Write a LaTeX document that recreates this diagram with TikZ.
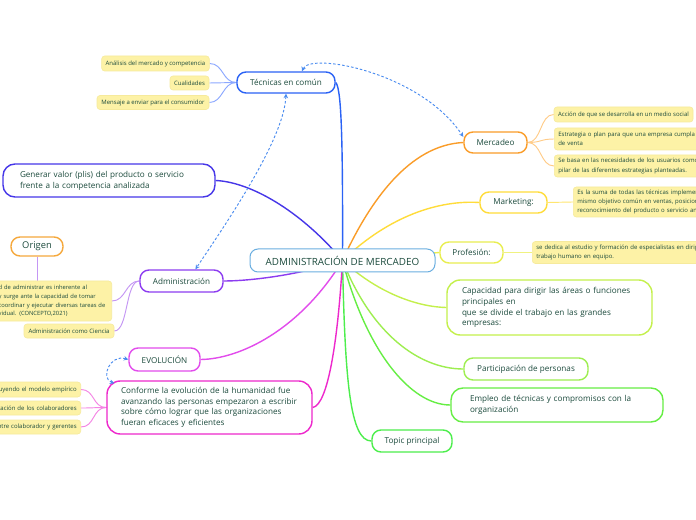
\documentclass[tikz,border=0pt]{standalone}
\usepackage{fontspec}
\setmainfont{Open Sans}
\usetikzlibrary{arrows.meta,calc,backgrounds}
\newdimen\pxu \pxu=0.75pt
\definecolor{txt}{HTML}{1B4A3C}
\definecolor{leaffill}{HTML}{FDF2A6}
\definecolor{leafdraw}{HTML}{F6EA9C}
\definecolor{relc}{HTML}{4A8CF0}
\definecolor{cCenter}{HTML}{6AAEE0}
\definecolor{cTec}{HTML}{2A62F5}
\definecolor{cMerc}{HTML}{FA9C28}
\definecolor{cMkt}{HTML}{FFDC3A}
\definecolor{cProf}{HTML}{E8EE50}
\definecolor{cCap}{HTML}{C4F04C}
\definecolor{cPart}{HTML}{9EEE50}
\definecolor{cEmpl}{HTML}{66EE44}
\definecolor{cTopic}{HTML}{4CEE4C}
\definecolor{cGen}{HTML}{4636E8}
\definecolor{cAdm}{HTML}{8C3CF0}
\definecolor{cOrig}{HTML}{F5A83C}
\definecolor{cEvo}{HTML}{E24CEC}
\definecolor{cConf}{HTML}{EE28CC}
\definecolor{lTec}{HTML}{8CA8FF}
\definecolor{lMerc}{HTML}{FFCC88}
\definecolor{lMkt}{HTML}{FFE670}
\definecolor{lProf}{HTML}{F0F280}
\definecolor{lAdm}{HTML}{C496F4}
\definecolor{lConf}{HTML}{F484E4}
\tikzset{
  topic/.style={draw, line width=1.05pt, rounded corners=6.75pt, fill=white, text=txt,
    font=\fontsize{6.1}{8.1}\selectfont, inner sep=0pt, align=center},
  leaf/.style={fill=leaffill, draw=leafdraw, line width=0.45pt, rounded corners=2.25pt, text=txt,
    font=\fontsize{4.5}{7}\selectfont, inner ysep=0pt, inner xsep=3pt},
  branch/.style={line width=1.05pt},
  twig/.style={line width=0.7pt},
  rel/.style={draw=relc, dash pattern=on 1.9pt off 1.5pt, line width=0.7pt,
    {Stealth[length=3.4pt,width=3.4pt]}-{Stealth[length=3.4pt,width=3.4pt]}},
}
\begin{document}
\begin{tikzpicture}[x=0.75pt,y=-0.75pt]
\useasboundingbox (0,0) rectangle (696,520);
\clip (0,0) rectangle (696,520);

% central and main topics
\node[topic, draw=cCenter, line width=0.75pt, rounded corners=6pt, minimum width=185\pxu, minimum height=23\pxu,
  font=\fontsize{7.4}{9}\selectfont] (center) at (342.5,260.5) {ADMINISTRACIÓN DE MERCADEO};
\node[topic, draw=cTec, minimum width=98\pxu, minimum height=21\pxu] (tec) at (286,82.5) {Técnicas en común};
\node[topic, draw=cMerc, minimum width=63\pxu, minimum height=21\pxu] (merc) at (495.5,142.5) {Mercadeo};
\node[topic, draw=cMkt, minimum width=67\pxu, minimum height=21\pxu] (mkt) at (513.5,202.5) {Marketing:};
\node[topic, draw=cProf, minimum width=63\pxu, minimum height=21\pxu] (prof) at (471.5,252.5) {Profesión:};
\node[topic, draw=cCap, rounded corners=10pt, minimum width=205\pxu, minimum height=55\pxu, text width=175\pxu, inner xsep=15\pxu, align=left]
  (cap) at (549.5,307.5) {Capacidad para dirigir las áreas o funciones\\principales en\\que se divide el trabajo en las grandes\\empresas:};
\node[topic, draw=cPart, minimum width=124\pxu, minimum height=22\pxu] (part) at (526,369) {Participación de personas};
\node[topic, draw=cEmpl, rounded corners=9pt, minimum width=212\pxu, minimum height=34\pxu, text width=174\pxu, inner xsep=19\pxu, align=left]
  (empl) at (557,405) {Empleo de técnicas y compromisos con la\\organización};
\node[topic, draw=cTopic, minimum width=80\pxu, minimum height=22\pxu] (topicp) at (412,441) {Topic principal};
\node[topic, draw=cGen, rounded corners=9pt, minimum width=212\pxu, minimum height=33\pxu, text width=178\pxu, inner xsep=17\pxu, align=left]
  (gen) at (109,180.5) {Generar valor (plis) del producto o servicio\\frente a la competencia analizada};
\node[topic, draw=cOrig, minimum width=52\pxu, minimum height=19\pxu, font=\fontsize{7}{8}\selectfont] (origen) at (37,246.5) {Origen};
\node[topic, draw=cAdm, minimum width=83\pxu, minimum height=22\pxu] (adm) at (181.5,281) {Administración};
\node[topic, draw=cEvo, minimum width=71\pxu, minimum height=23\pxu] (evo) at (164.5,359.5) {EVOLUCIÓN};
\node[topic, draw=cConf, rounded corners=10pt, minimum width=205\pxu, minimum height=53\pxu, text width=177\pxu, inner xsep=14\pxu, align=left,
  font=\fontsize{6.1}{7.9}\selectfont]
  (conf) at (209.5,407.5) {Conforme la evolución de la humanidad fue\\avanzando las personas empezaron a escribir\\sobre cómo lograr que las organizaciones\\fueran eficaces y eficientes};

% leaves
\node[leaf, minimum width=107\pxu, minimum height=15\pxu] (a1) at (155.5,63.5) {Análisis del mercado y competencia};
\node[leaf, minimum width=39\pxu, minimum height=14\pxu] (a2) at (189.5,83) {Cualidades};
\node[leaf, minimum width=112\pxu, minimum height=14\pxu] (a3) at (153,102.5) {Mensaje a enviar para el consumidor};
\node[leaf, minimum width=139\pxu, minimum height=15\pxu] (m1) at (623.5,114.5) {Acción de que se desarrolla en un medio social};
\node[leaf, anchor=west, text width=200\pxu, align=left, minimum height=22\pxu] (m2) at (554,139) {Estrategia o plan para que una empresa cumpla s\\de venta};
\node[leaf, anchor=west, text width=200\pxu, align=left, minimum height=22\pxu] (m3) at (554,166) {Se basa en las necesidades de los usuarios como\\pilar de las diferentes estrategias planteadas.};
\node[leaf, anchor=west, text width=200\pxu, align=left, minimum height=30\pxu] (k1) at (573,202) {Es la suma de todas las técnicas implemen\\mismo objetivo común en ventas, posicion,\\reconocimiento del producto o servicio ant};
\node[leaf, anchor=west, text width=200\pxu, align=left, minimum height=22\pxu] (p1) at (532,252.5) {se dedica al estudio y formación de especialistas en dirigi\\trabajo humano en equipo.};
\node[leaf, anchor=east, text width=109\pxu, align=left, minimum height=40\pxu, font=\fontsize{4.35}{6.4}\selectfont] (on) at (112,301) {d de administrar es inherente al\\y surge ante la capacidad de tomar\\coordinar y ejecutar diversas tareas de\\vidual. (CONCEPTO,2021)};
\node[leaf, minimum width=90\pxu, minimum height=14\pxu] (ac) at (69,331) {Administración como Ciencia};
\node[leaf, anchor=east, text width=110\pxu, align=right, minimum height=15\pxu] (e1) at (81,389.5) {uyendo el modelo empírico};
\node[leaf, anchor=east, text width=110\pxu, align=right, minimum height=14\pxu] (e2) at (81,408) {tación de los colaboradores};
\node[leaf, anchor=east, text width=110\pxu, align=right, minimum height=14\pxu] (e3) at (81,427) {ntre colaborador y gerentes};

\begin{scope}[on background layer]
\fill[white] (0,0) rectangle (696,520);
% main branches
\draw[branch, cTec] (center.center) .. controls (343,130) and (341,88) .. (tec.east);
\draw[branch, cMerc] (center.center) .. controls (370,200) and (410,145) .. (merc.west);
\draw[branch, cMkt] (center.center) .. controls (390,215) and (440,200) .. (mkt.west);
\draw[branch, cProf] (center.center) -- (prof.west);
\draw[branch, cCap] (center.center) .. controls (380,295) and (420,307) .. (cap.west);
\draw[branch, cPart] (center.center) .. controls (372,335) and (420,369) .. (part.west);
\draw[branch, cEmpl] (center.center) .. controls (366,350) and (410,405) .. (empl.west);
\draw[branch, cTopic] (center.center) .. controls (345,380) and (350,441) .. (topicp.west);
\draw[branch, cConf] (center.center) .. controls (338,340) and (328,405) .. (conf.east);
\draw[branch, cEvo] (center.center) .. controls (300,330) and (240,359) .. (evo.east);
\draw[branch, cAdm] (center.center) .. controls (300,275) and (250,281) .. (adm.east);
\draw[branch, cGen] (center.center) .. controls (300,210) and (250,182) .. (gen.east);
% leaf twigs
\foreach \l in {a1,a2,a3} \draw[twig, lTec] (tec.west) .. controls +(-14,0) and +(14,0) .. (\l.east);
\foreach \l in {m1,m2,m3} \draw[twig, lMerc] (merc.east) .. controls +(14,0) and +(-14,0) .. (\l.west);
\draw[twig, lMkt] (mkt.east) -- (k1.west);
\draw[twig, lProf] (prof.east) .. controls +(12,0) and +(-12,0) .. (p1.west);
\draw[twig, lAdm] (adm.west) .. controls +(-14,0) and +(14,0) .. (on.east);
\draw[twig, lAdm] (adm.west) .. controls +(-14,0) and +(14,0) .. (ac.east);
\draw[twig, lAdm] (origen.south) -- (origen.south |- on.north);
\foreach \l in {e1,e2,e3} \draw[twig, lConf] (conf.west) .. controls +(-14,0) and +(14,0) .. (\l.east);
\end{scope}

% relationships
\draw[rel] (tec.35) .. controls (310,52) and (420,72) .. (merc.170);
\draw[rel] (tec.south) .. controls (284,140) and (225,225) .. (adm.40);
\draw[rel] (evo.west) .. controls (110,354) and (100,378) .. ($(conf.north west)+(8,3)$);
\end{tikzpicture}
\end{document}
